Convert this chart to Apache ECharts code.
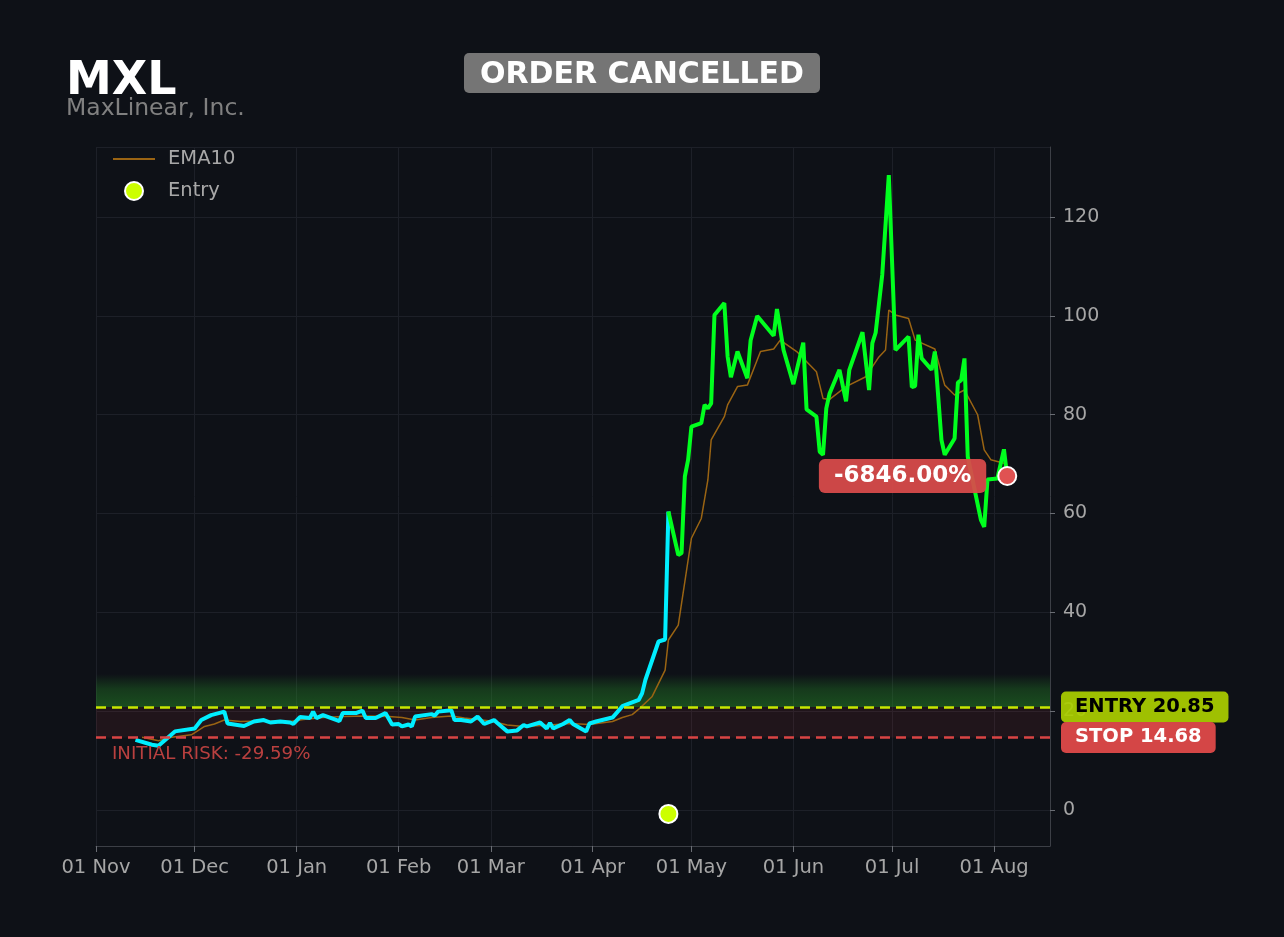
<!DOCTYPE html>
<html>
<head>
<meta charset="utf-8">
<title>MXL</title>
<script src="https://cdn.jsdelivr.net/npm/echarts@6/dist/echarts.min.js"></script>
<style>
    html, body { margin: 0; padding: 0; background: #0e1117; }
    #chart { width: 1284px; height: 937px; }
</style>
</head>
<body>
<div id="chart"></div>
<script>
// price before entry (cyan part)
var preDates = ['2024-11-13', '2024-11-18', '2024-11-20', '2024-11-25', '2024-12-01', '2024-12-03', '2024-12-06',
    '2024-12-10', '2024-12-11', '2024-12-16', '2024-12-19', '2024-12-22', '2024-12-24', '2024-12-27', '2024-12-30',
    '2024-12-31', '2025-01-02', '2025-01-05', '2025-01-06', '2025-01-07', '2025-01-09', '2025-01-14', '2025-01-15',
    '2025-01-19', '2025-01-21', '2025-01-22', '2025-01-25', '2025-01-28', '2025-01-30', '2025-02-01', '2025-02-02',
    '2025-02-04', '2025-02-05', '2025-02-06', '2025-02-11', '2025-02-12', '2025-02-13', '2025-02-17', '2025-02-18',
    '2025-02-20', '2025-02-23', '2025-02-25', '2025-02-27', '2025-03-02', '2025-03-03', '2025-03-06', '2025-03-09',
    '2025-03-11', '2025-03-12', '2025-03-16', '2025-03-18', '2025-03-19', '2025-03-20', '2025-03-23', '2025-03-25',
    '2025-03-26', '2025-03-30', '2025-03-31', '2025-04-02', '2025-04-07', '2025-04-09', '2025-04-10', '2025-04-15',
    '2025-04-16', '2025-04-17', '2025-04-21', '2025-04-23', '2025-04-24'];
var preValues = [14.2, 13.2, 13.0, 15.9, 16.5, 18.2, 19.2,
    19.9, 17.5, 17.0, 17.9, 18.2, 17.7, 17.9, 17.7,
    17.4, 18.8, 18.6, 19.9, 18.6, 19.2, 18.0, 19.6,
    19.6, 20.1, 18.6, 18.6, 19.6, 17.3, 17.4, 16.9,
    17.3, 16.9, 18.9, 19.4, 19.1, 19.9, 20.2, 18.2,
    18.2, 17.9, 18.9, 17.4, 18.2, 17.6, 15.9, 16.1,
    17.2, 16.9, 17.7, 16.5, 17.6, 16.5, 17.4, 18.2,
    17.4, 15.9, 17.5, 17.9, 18.7, 20.2, 21.0, 22.3,
    23.6, 26.3, 34.1, 34.5, 60.4];

// price after entry (green part)
var postDates = ['2025-04-24', '2025-04-27', '2025-04-28', '2025-04-29', '2025-04-30', '2025-05-01', '2025-05-04',
    '2025-05-05', '2025-05-06', '2025-05-07', '2025-05-08', '2025-05-11', '2025-05-12', '2025-05-13', '2025-05-15',
    '2025-05-18', '2025-05-19', '2025-05-21', '2025-05-26', '2025-05-27', '2025-05-29', '2025-06-01', '2025-06-04',
    '2025-06-05', '2025-06-08', '2025-06-09', '2025-06-10', '2025-06-11', '2025-06-12', '2025-06-15', '2025-06-17',
    '2025-06-18', '2025-06-22', '2025-06-24', '2025-06-25', '2025-06-26', '2025-06-28', '2025-06-30', '2025-07-02',
    '2025-07-06', '2025-07-07', '2025-07-08', '2025-07-09', '2025-07-10', '2025-07-13', '2025-07-14', '2025-07-16',
    '2025-07-17', '2025-07-20', '2025-07-21', '2025-07-22', '2025-07-23', '2025-07-24', '2025-07-28', '2025-07-29',
    '2025-07-30', '2025-08-02', '2025-08-04', '2025-08-05'];
var postValues = [60.4, 51.6, 52.0, 67.5, 70.9, 77.6, 78.3,
    82.0, 81.3, 82.3, 100.2, 102.6, 91.8, 87.6, 92.8,
    87.4, 95.1, 100.0, 96.0, 101.4, 93.1, 86.2, 94.6,
    81.1, 79.6, 72.5, 71.9, 81.3, 84.3, 89.1, 82.7,
    89.1, 96.7, 85.0, 94.5, 96.6, 108.3, 128.5, 93.1,
    95.8, 85.6, 85.8, 96.2, 91.4, 89.1, 92.8, 74.9,
    71.9, 75.2, 86.5, 87.0, 91.4, 71.5, 58.7, 57.3,
    66.9, 67.1, 73.0, 67.4];

// EMA10
var emaDates = ['2024-11-15', '2024-11-20', '2024-11-24', '2024-11-30', '2024-12-04', '2024-12-07', '2024-12-10',
    '2024-12-15', '2024-12-21', '2024-12-30', '2025-01-03', '2025-01-09', '2025-01-15', '2025-01-22', '2025-01-29',
    '2025-02-02', '2025-02-06', '2025-02-11', '2025-02-17', '2025-02-21', '2025-03-01', '2025-03-06', '2025-03-11',
    '2025-03-19', '2025-03-25', '2025-03-31', '2025-04-07', '2025-04-10', '2025-04-13', '2025-04-15', '2025-04-19',
    '2025-04-23', '2025-04-24', '2025-04-27', '2025-04-28', '2025-05-01', '2025-05-04', '2025-05-06', '2025-05-07',
    '2025-05-11', '2025-05-12', '2025-05-15', '2025-05-18', '2025-05-22', '2025-05-26', '2025-05-28', '2025-06-02',
    '2025-06-08', '2025-06-10', '2025-06-12', '2025-06-17', '2025-06-23', '2025-06-27', '2025-06-29', '2025-06-30',
    '2025-07-02', '2025-07-06', '2025-07-08', '2025-07-14', '2025-07-17', '2025-07-20', '2025-07-23', '2025-07-27',
    '2025-07-29', '2025-07-31', '2025-08-04'];
var emaValues = [14.7, 14.0, 14.7, 15.2, 16.9, 17.4, 18.2,
    17.9, 18.0, 17.9, 18.3, 18.7, 18.9, 19.0, 18.9,
    18.7, 18.2, 18.7, 19.0, 18.6, 18.0, 17.2, 16.9,
    17.2, 17.5, 17.3, 17.9, 18.7, 19.3, 20.4, 22.9,
    28.3, 34.4, 37.4, 41.8, 55.0, 59.0, 66.8, 74.9,
    79.6, 82.0, 85.7, 86.0, 92.8, 93.3, 95.1, 92.8,
    88.7, 83.3, 83.1, 85.7, 87.7, 91.7, 93.1, 101.2,
    100.2, 99.5, 95.1, 93.3, 86.0, 84.0, 85.0, 80.0,
    72.9, 70.9, 70.2];

// trade
var entryDate = '2025-04-24';
var entryMarker = -0.8;
var entryPrice = 20.85;
var stopPrice = 14.68;
var exitDate = '2025-08-05';
var exitPrice = 67.6;
var pnlPct = -6846.00;

var yTicks = [0, 20, 40, 60, 80, 100, 120];

function pairs(dates, values) {
    var out = [];
    for (var i = 0; i < dates.length; i++) {
        out.push([dates[i], values[i]]);
    }
    return out;
}

var riskPct = (stopPrice - entryPrice) / entryPrice * 100;
var font = 'DejaVu Sans';

var myChart = echarts.init(document.getElementById('chart'));

var option = {
    backgroundColor: '#0e1117',
    animation: false,
    textStyle: { fontFamily: font },
    graphic: [
        {
            type: 'text', left: 66, top: 59,
            style: { text: 'MXL', fill: '#ffffff', font: 'bold 46px "DejaVu Sans"' }
        },
        {
            type: 'text', left: 66, top: 97,
            style: { text: 'MaxLinear, Inc.', fill: '#808080', font: '23.5px "DejaVu Sans"' }
        },
        {
            type: 'group', left: 464, top: 53,
            children: [
                { type: 'rect', shape: { x: 0, y: 0, width: 356, height: 40, r: 5 }, style: { fill: '#757575' } },
                {
                    type: 'text', x: 178, y: 22,
                    style: {
                        text: 'ORDER CANCELLED', fill: '#ffffff', font: 'bold 30px "DejaVu Sans"',
                        textAlign: 'center', textVerticalAlign: 'middle'
                    }
                }
            ]
        }
    ],
    legend: {
        data: [
            { name: 'EMA10', itemStyle: { opacity: 0 } },
            { name: 'Entry' }
        ],
        orient: 'vertical',
        left: 112,
        top: 149,
        padding: 0,
        itemWidth: 42,
        itemHeight: 18,
        itemGap: 12,
        textStyle: { color: '#a8a8a8', fontSize: 19.5, fontFamily: font, padding: [0, 0, 0, 8] }
    },
    grid: { left: 96, right: 234, top: 147, bottom: 91 },
    xAxis: {
        type: 'time',
        min: '2024-11-01',
        max: '2025-08-18',
        minInterval: 28 * 86400000,
        maxInterval: 31 * 86400000,
        axisLine: { onZero: false, lineStyle: { color: '#3c3f46' } },
        axisTick: { show: true, length: 6, lineStyle: { color: '#6a6d74' } },
        axisLabel: { color: '#a6a6a6', fontSize: 19.5, margin: 12, formatter: '{dd} {MMM}', hideOverlap: false },
        splitLine: { show: true, lineStyle: { color: '#1d2028' } }
    },
    yAxis: {
        type: 'value',
        position: 'right',
        min: -7.3,
        max: 134.2,
        splitNumber: 7,
        axisLine: { show: true, lineStyle: { color: '#3c3f46' } },
        axisTick: { show: true, length: 5, lineStyle: { color: '#6a6d74' } },
        axisLabel: {
            color: '#a6a6a6', fontSize: 19, margin: 13,
            showMinLabel: false, showMaxLabel: false,
            formatter: function (v) { return yTicks.indexOf(v) >= 0 ? String(v) : ''; }
        },
        splitLine: { show: true, lineStyle: { color: '#1d2028' } }
    },
    series: [
        {
            name: 'Price',
            type: 'line',
            data: pairs(preDates, preValues),
            symbol: 'none',
            lineStyle: { color: '#00eeff', width: 4 },
            z: 3,
            markArea: {
                silent: true,
                data: [
                    [{ yAxis: stopPrice, itemStyle: { color: 'rgba(200,60,70,0.1)' } }, { yAxis: entryPrice }],
                    [{
                        yAxis: entryPrice,
                        itemStyle: {
                            color: {
                                type: 'linear', x: 0, y: 0, x2: 0, y2: 1,
                                colorStops: [
                                    { offset: 0, color: 'rgba(40,150,40,0)' },
                                    { offset: 0.45, color: 'rgba(40,150,40,0.3)' },
                                    { offset: 1, color: 'rgba(40,150,40,0.45)' }
                                ]
                            }
                        }
                    }, { yAxis: 27.5 }]
                ]
            },
            markLine: {
                silent: true,
                symbol: ['none', 'none'],
                data: [
                    {
                        yAxis: entryPrice,
                        lineStyle: { color: '#c8e600', type: [10, 6], width: 2.5 },
                        label: {
                            show: true, position: 'end', distance: 11,
                            formatter: 'ENTRY ' + entryPrice.toFixed(2),
                            backgroundColor: 'rgba(170,206,0,0.93)', color: '#000000',
                            fontWeight: 'bold', fontSize: 19.5, fontFamily: font,
                            padding: [6, 14, 5, 14], borderRadius: 5
                        }
                    },
                    {
                        yAxis: stopPrice,
                        lineStyle: { color: '#d94444', type: [10, 6], width: 2.5 },
                        label: {
                            show: true, position: 'end', distance: 11,
                            formatter: 'STOP ' + stopPrice.toFixed(2),
                            backgroundColor: '#d44646', color: '#ffffff',
                            fontWeight: 'bold', fontSize: 19.5, fontFamily: font,
                            padding: [6, 14, 5, 14], borderRadius: 5
                        }
                    },
                    {
                        yAxis: stopPrice,
                        lineStyle: { color: 'rgba(0,0,0,0)', width: 0 },
                        label: {
                            show: true, position: 'insideStartBottom', distance: 8,
                            formatter: 'INITIAL RISK: ' + riskPct.toFixed(2) + '%',
                            color: '#b9403f', fontSize: 18.2, fontFamily: font,
                            padding: [0, 0, 0, 8]
                        }
                    }
                ]
            }
        },
        {
            name: 'Price after entry',
            type: 'line',
            data: pairs(postDates, postValues),
            symbol: 'none',
            lineStyle: { color: '#00ff1e', width: 4 },
            z: 3
        },
        {
            name: 'EMA10',
            type: 'line',
            data: pairs(emaDates, emaValues),
            symbol: 'none',
            color: '#9a6413',
            lineStyle: { color: '#9a6413', width: 1.5 },
            z: 2
        },
        {
            name: 'Entry',
            type: 'scatter',
            data: [[entryDate, entryMarker]],
            symbolSize: 18,
            itemStyle: { color: '#ccff00', borderColor: '#ffffff', borderWidth: 2, opacity: 1 },
            z: 5
        },
        {
            name: 'Exit',
            type: 'scatter',
            data: [[exitDate, exitPrice]],
            symbolSize: 18,
            itemStyle: { color: '#e05252', borderColor: '#ffffff', borderWidth: 2, opacity: 1 },
            label: {
                show: true, position: 'left', distance: 11,
                formatter: pnlPct.toFixed(2) + '%',
                backgroundColor: 'rgba(217,74,74,0.94)', color: '#ffffff',
                fontWeight: 'bold', fontSize: 23, fontFamily: font,
                padding: [6, 15, 5, 15], borderRadius: 6
            },
            z: 6
        }
    ]
};

myChart.setOption(option);
</script>
</body>
</html>
